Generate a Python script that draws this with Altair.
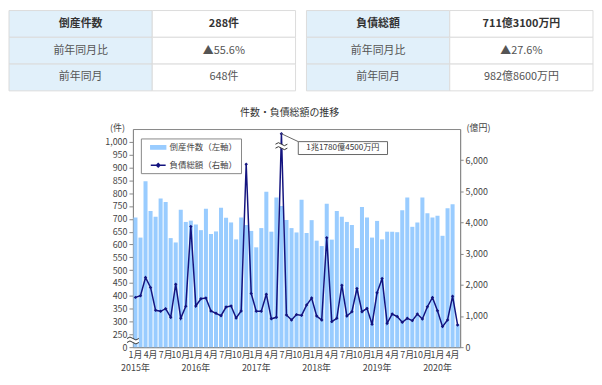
import altair as alt
import pandas as pd

# ---------------- data ----------------
MONTHS = [f"{y}-{m:02d}" for y in range(2015, 2021) for m in range(1, 13)][:65]

COUNTS = [705, 627, 847, 731, 708, 779, 766, 625, 608, 735, 688, 693,
          678, 656, 739, 641, 651, 743, 704, 686, 620, 705, 676, 653,
          589, 664, 806, 650, 783, 750, 696, 664, 647, 774, 645, 695,
          615, 594, 759, 619, 731, 708, 688, 676, 586, 746, 705, 627,
          692, 620, 650, 650, 648, 734, 783, 669, 686, 783, 722, 705,
          712, 634, 741, 757, 288]

DEBTS = [1597, 1650, 2235, 1916, 1182, 1150, 1235, 958, 2022, 926, 1310, 3875,
         1320, 1554, 1575, 1160, 1086, 1011, 1288, 1320, 936, 1160, 5870, 1720,
         1150, 1150, 1700, 910, 958, 11780.45, 1032, 872, 1045, 1020, 1351, 1575,
         1000, 872, 3512, 819, 926, 1990, 1000, 1138, 1883, 1138, 1245, 734,
         1745, 2202, 766, 1064, 982.86, 798, 926, 851, 1064, 904, 1298, 1596,
         1170, 660, 872, 1638, 711.31]

TABLE_LEFT_KEYS = ["倒産件数", "前年同月比", "前年同月"]
TABLE_LEFT_VALUES = ["288件", "▲55.6%", "648件"]
TABLE_RIGHT_KEYS = ["負債総額", "前年同月比", "前年同月"]
TABLE_RIGHT_VALUES = ["711億3100万円", "▲27.6%", "982億8600万円"]

SERIES = ["倒産件数（左軸）", "負債総額（右軸）"]
TITLE = "件数・負債総額の推移"
ANNOT = "1兆1780億4500万円"
LEFT_TICKS = list(range(200, 1001, 50))
RIGHT_TICKS = list(range(0, 6001, 1000))

# ---------------- styles ----------------
FONT = "Noto Sans CJK JP"
BAR = "#99ccff"
LINE = "#14147f"
AXIS_C = "#888888"
LABEL_C = "#444444"

BAR_PATH = "M0.2,-0.35H3.2V0.35H0.2Z"
LINE_PATH = "M0.2,0H3.2M1.35,0L1.7,-0.35L2.05,0L1.7,0.35Z"
BOX_PATH = "M0,0L17,8M17,8H107V21H17Z"
BREAK_FILL = "M-6,-2Q-3,-5,0,-2T6,-2L6,2Q3,5,0,2T-6,2Z"
BREAK_LINES = "M-6,-2Q-3,-5,0,-2T6,-2M-6,2Q-3,-1,0,2T6,2"

df = pd.DataFrame({"month": MONTHS, "count": COUNTS, "debt": DEBTS})

rows = []
for t, keys, vals in (("L", TABLE_LEFT_KEYS, TABLE_LEFT_VALUES),
                      ("R", TABLE_RIGHT_KEYS, TABLE_RIGHT_VALUES)):
    for r, (k, v) in enumerate(zip(keys, vals)):
        rows.append({"tbl": t, "col": "k", "row": r, "text": k})
        rows.append({"tbl": t, "col": "v", "row": r, "text": v})
tdf = pd.DataFrame(rows)

# ---------------- tables ----------------
tx = alt.X("tbl:N", scale=alt.Scale(domain=["L", "R"], range=[-125, 464],
                                    paddingInner=0.0367, paddingOuter=0), axis=None)
txo = alt.XOffset("col:N", scale=alt.Scale(domain=["k", "v"], paddingInner=0, paddingOuter=0))
ty = alt.Y("row:O", scale=alt.Scale(range=[0, 81], paddingInner=0, paddingOuter=0), axis=None)

tbase = alt.Chart(tdf)
cells = tbase.mark_rect(stroke="#dcdcdc", strokeWidth=1).encode(
    x=tx, xOffset=txo, y=ty,
    fill=alt.Fill("col:N", scale=alt.Scale(domain=["k", "v"], range=["#e1f0fa", "#ffffff"]), legend=None),
)
head_txt = tbase.transform_filter("datum.row == 0").mark_text(
    fontSize=11, fontWeight="bold", color="#333333").encode(x=tx, xOffset=txo, y=ty, text="text:N")
body_txt = tbase.transform_filter("datum.row > 0").mark_text(
    fontSize=11, color="#555555").encode(x=tx, xOffset=txo, y=ty, text="text:N")
table = alt.layer(cells, head_txt, body_txt).properties(
    width=330, height=81, view=alt.ViewBackground(strokeOpacity=0))

# ---------------- combo chart ----------------
xlabel = ("toNumber(slice(datum.value,5)) == 1 ? "
          "[toNumber(slice(datum.value,5)) + '月', slice(datum.value,0,4) + '年'] : "
          "(toNumber(slice(datum.value,5)) % 3 == 1 ? toNumber(slice(datum.value,5)) + '月' : '')")
xaxis = alt.Axis(labelExpr=xlabel, labelAngle=0, ticks=False, domainColor=AXIS_C,
                 labelFontSize=9, labelColor=LABEL_C, labelPadding=3, labelLineHeight=14,
                 labelOverlap=False, title=None)
X = alt.X("month:O", sort=MONTHS, scale=alt.Scale(paddingInner=0.2, paddingOuter=0.1),
          axis=xaxis, title=None)

YL = alt.Scale(domain=[200, 1050], zero=False, nice=False)
yl_axis = alt.Axis(values=LEFT_TICKS, labelExpr="datum.value == 200 ? '0' : format(datum.value, ',')",
                   title="(件)", titleAngle=0, titleX=-16, titleY=-2, titleAlign="center",
                   titleBaseline="middle", titleFontWeight="normal", titleFontSize=9,
                   titleColor=LABEL_C, tickSize=4, tickColor=AXIS_C, domainColor=AXIS_C,
                   labelFontSize=9, labelColor=LABEL_C, labelPadding=2, grid=False)
YR = alt.Scale(domain=[0, 7000], nice=False)
yr_axis = alt.Axis(orient="right", values=RIGHT_TICKS, labelExpr="format(datum.value, ',')",
                   title="(億円)", titleAngle=0, titleX=18, titleY=-2, titleAlign="center",
                   titleBaseline="middle", titleFontWeight="normal", titleFontSize=9,
                   titleColor=LABEL_C, tickSize=3, tickColor=AXIS_C, domainColor=AXIS_C,
                   labelFontSize=9, labelColor=LABEL_C, labelPadding=2, grid=False)

base = alt.Chart(df)

bars = base.mark_bar(color=BAR).encode(
    x=X, y=alt.Y("count:Q", scale=YL, axis=yl_axis), y2=alt.datum(200))

LEG = alt.Legend(title=None, orient="none", legendX=8, legendY=129, direction="vertical",
                 strokeColor="#888888", fillColor="white", padding=3, rowPadding=7,
                 labelFontSize=8.5, labelColor=LABEL_C, labelOffset=14,
                 symbolSize=100, symbolStrokeWidth=1.5, symbolOpacity=1)
legend_layer = base.transform_calculate(series="'x'").transform_filter("false").mark_point(
    filled=True, opacity=1).encode(
    shape=alt.Shape("series:N", scale=alt.Scale(domain=SERIES, range=[BAR_PATH, LINE_PATH]), legend=LEG),
    color=alt.Color("series:N", scale=alt.Scale(domain=SERIES, range=[BAR, LINE]), legend=LEG),
    stroke=alt.Stroke("series:N", scale=alt.Scale(domain=SERIES, range=[BAR, LINE]), legend=LEG),
)

lb = base.transform_calculate(disp="min(datum.debt, 6850)")
YD = alt.Y("disp:Q", scale=YR, axis=yr_axis)
line = lb.mark_line(color=LINE, strokeWidth=1.5).encode(x=X, y=YD)
pts = lb.mark_point(shape="diamond", filled=True, size=12, color=LINE, opacity=1).encode(x=X, y=YD)

top = lb.transform_filter("datum.debt > 7000")
box = top.mark_point(shape=BOX_PATH, size=4, fill="white", stroke="#666666",
                     strokeWidth=1, opacity=1, fillOpacity=1).encode(x=X, y=YD)
box_txt = top.mark_text(text=ANNOT, dx=62, dy=14.5, fontSize=8.2, color="#333333").encode(x=X, y=YD)

spike = top.transform_calculate(bk="6450")
YB = alt.Y("bk:Q", scale=YR, axis=yr_axis)
spike_fill = spike.mark_point(shape=BREAK_FILL, size=4, fill="white", strokeOpacity=0,
                              fillOpacity=1, opacity=1).encode(x=X, y=YB)
spike_lines = spike.mark_point(shape=BREAK_LINES, size=4, filled=False, color="#333333",
                               strokeWidth=1, opacity=1).encode(x=X, y=YB)

first = lb.transform_filter(f"datum.month == '{MONTHS[0]}'").transform_calculate(bk="215")
axis_fill = first.mark_point(shape=BREAK_FILL, size=4, fill="white", strokeOpacity=0,
                             fillOpacity=1, opacity=1).encode(x=alt.value(0), y=YB)
axis_lines = first.mark_point(shape=BREAK_LINES, size=4, filled=False, color="#333333",
                              strokeWidth=1, opacity=1).encode(x=alt.value(0), y=YB)

left_group = alt.layer(bars, legend_layer)
right_group = alt.layer(line, pts, spike_fill, spike_lines, axis_fill, axis_lines, box, box_txt)

combo = alt.layer(left_group, right_group).resolve_scale(y="independent").properties(
    width=330, height=220,
    title=alt.Title(TITLE, fontSize=10, fontWeight="normal", color="#333333",
                    offset=5, dx=-7, anchor="middle", frame="group"),
    view=alt.ViewBackground(stroke=AXIS_C, strokeOpacity=1, strokeWidth=1),
)

chart = alt.vconcat(table, combo, spacing=38.5, bounds="flush").properties(
    padding=0
).configure(font=FONT).configure_view(strokeOpacity=0)

chart.save("out.html", embed_options={"renderer": "svg", "actions": False})
